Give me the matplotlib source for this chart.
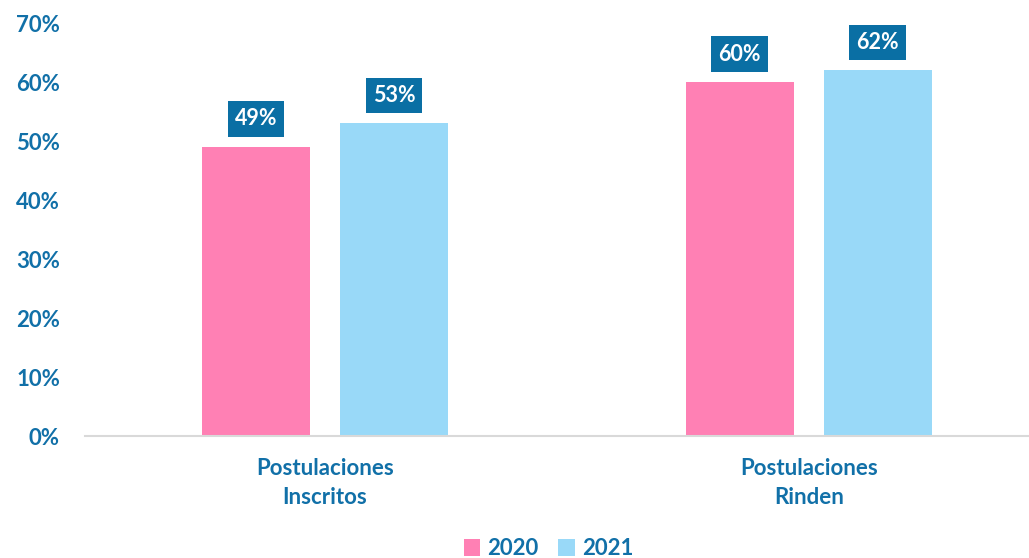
import matplotlib as mpl
mpl.use('Agg')
import matplotlib.pyplot as plt
import numpy as np

# data
categories = ["Postulaciones\nInscritos", "Postulaciones\nRinden"]
years = ["2020", "2021"]
values_2020 = [49, 60]
values_2021 = [53, 62]
yticks = [0, 10, 20, 30, 40, 50, 60, 70]

pink = '#FF80B4'
light_blue = '#99D9F8'
box_blue = '#0A6FA4'
text_blue = '#1170A8'

plt.rcParams['font.family'] = ['Lato', 'DejaVu Sans']

fig = plt.figure(figsize=(10.29, 5.58), dpi=100)
ax = fig.add_axes([0.0826, 0.2186, 0.9174, 0.740])

x = np.arange(len(categories))
w = 0.223
off = 0.1426
bars1 = ax.bar(x - off, values_2020, w, color=pink, label=years[0])
bars2 = ax.bar(x + off, values_2021, w, color=light_blue, label=years[1])

# value labels in dark blue boxes
for bars, vals in [(bars1, values_2020), (bars2, values_2021)]:
    for b, v in zip(bars, vals):
        ax.annotate("%d%%" % v, (b.get_x() + b.get_width() / 2, v),
                    xytext=(0, 28), textcoords='offset pixels',
                    ha='center', va='center', color='white',
                    fontsize=15.5, fontweight='bold',
                    bbox=dict(boxstyle='square,pad=0.33', fc=box_blue, ec='none'))

ax.set_xlim(-0.496, 1.455)
ax.set_ylim(0, 70)
ax.set_yticks(yticks)
ax.set_yticklabels(["%d%%" % t for t in yticks])
ax.set_xticks(x)
ax.set_xticklabels(categories, linespacing=1.45)

for s in ['top', 'right', 'left']:
    ax.spines[s].set_visible(False)
ax.spines['bottom'].set_color('#D9D9D9')
ax.spines['bottom'].set_linewidth(1.5)
ax.tick_params(axis='both', length=0, colors=text_blue, labelsize=16)
ax.tick_params(axis='y', pad=18)
ax.tick_params(axis='x', pad=16)
for lab in ax.get_xticklabels() + ax.get_yticklabels():
    lab.set_fontweight('bold')

leg = fig.legend(loc='lower center', bbox_to_anchor=(0.533, -0.038), ncol=2, frameon=False,
                 handlelength=0.75, handleheight=0.75, handletextpad=0.3, columnspacing=0.9,
                 prop={'size': 16, 'weight': 'bold'})
for t in leg.get_texts():
    t.set_color(text_blue)

fig.savefig("out.png", dpi=100)
